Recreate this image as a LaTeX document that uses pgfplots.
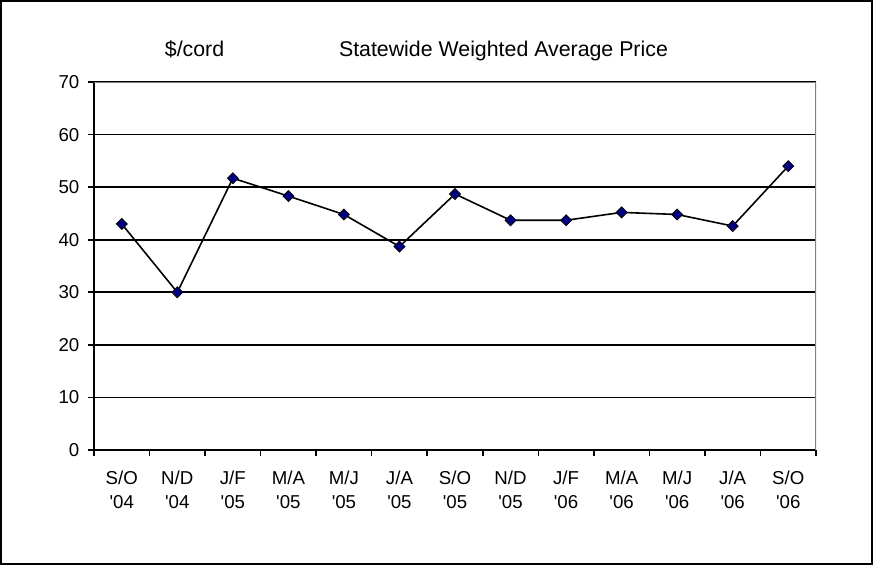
\documentclass[border=0pt]{standalone}
\usepackage{fontspec}
\setmainfont{Liberation Sans}
\usepackage{pgfplots}
\pgfplotsset{compat=1.18}
\definecolor{mknavy}{RGB}{0,0,128}
\definecolor{bordergray}{RGB}{128,128,128}
\begin{document}
\begin{tikzpicture}
\path[use as bounding box] (0,0) rectangle (654.75pt,423.75pt);
\draw[line width=1.5pt,black] (0.75pt,0.75pt) rectangle (654pt,423pt);
\node[anchor=base,font=\fontsize{16}{19}\selectfont] at (145.9pt,381.2pt) {\$/cord};
\node[anchor=base,font=\fontsize{16}{19}\selectfont] at (377.6pt,381.2pt) {Statewide Weighted Average Price};
\begin{axis}[
  at={(70.5pt,86.25pt)}, anchor=south west,
  scale only axis, width=541.5pt, height=276pt,
  xmin=-0.5, xmax=12.5, ymin=0, ymax=70,
  axis lines*=left,
  axis line style={line width=1.2pt,black},
  xtick={0,...,12},
  xticklabels={{S/O\\\textquotesingle04},{N/D\\\textquotesingle04},{J/F\\\textquotesingle05},{M/A\\\textquotesingle05},{M/J\\\textquotesingle05},{J/A\\\textquotesingle05},{S/O\\\textquotesingle05},{N/D\\\textquotesingle05},{J/F\\\textquotesingle06},{M/A\\\textquotesingle06},{M/J\\\textquotesingle06},{J/A\\\textquotesingle06},{S/O\\\textquotesingle06}},
  major x tick style={draw=none},
  minor xtick={-0.5,0.5,...,12.5},
  minor tick length=4.5pt,
  major tick length=4.5pt,
  tick align=outside,
  tick style={line width=1.2pt,black},
  ytick={0,10,...,70},
  ymajorgrids,
  grid style={line width=1.2pt,black},
  /pgf/number format/assume math mode=true,
  ticklabel style={font=\fontsize{14}{18}\selectfont},
  xticklabel style={align=center,yshift=-7.5pt},
  yticklabel style={xshift=-3pt},
]
\addplot[line width=1.2pt,black,mark=square*,mark size=2.9pt,
  mark options={rotate=45,fill=mknavy,draw=black,line width=0.6pt}]
  coordinates {(0,43.0) (1,30.0) (2,51.7) (3,48.3) (4,44.8) (5,38.7) (6,48.7)
  (7,43.7) (8,43.7) (9,45.2) (10,44.8) (11,42.6) (12,54.0)};
\draw[line width=1.5pt,bordergray] (rel axis cs:0,1) -- (rel axis cs:1,1) -- (rel axis cs:1,0);
\end{axis}
\end{tikzpicture}
\end{document}
